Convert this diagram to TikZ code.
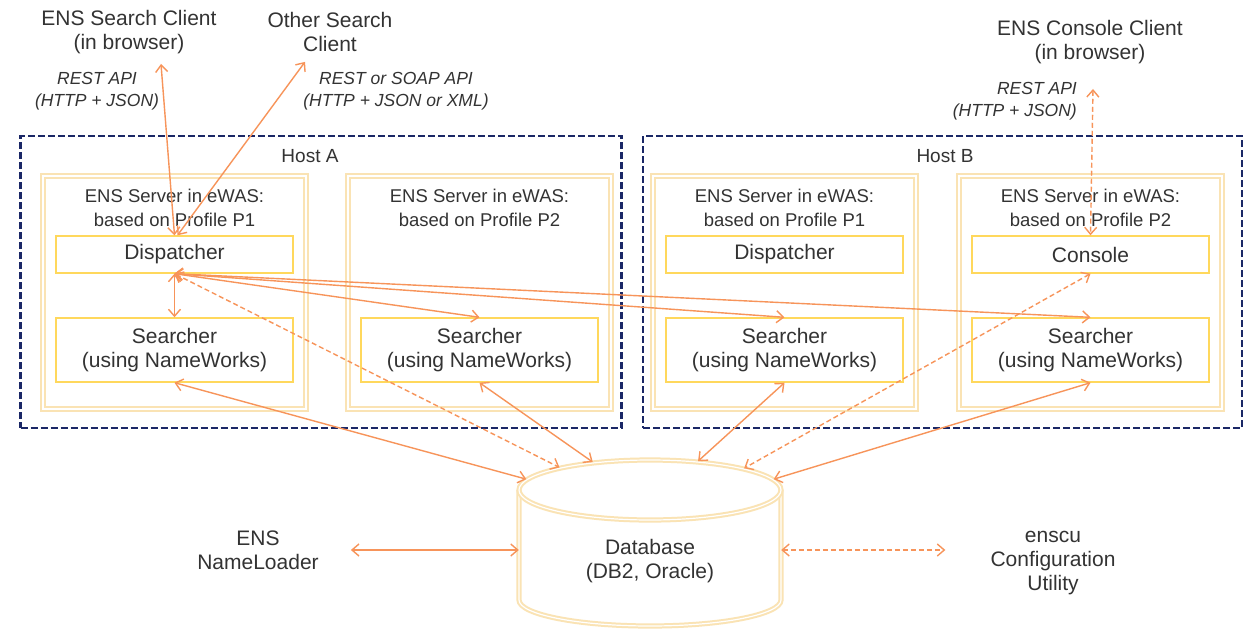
\documentclass[tikz,border=0pt]{standalone}
\usepackage{fontspec}
\setmainfont{Liberation Sans}
\setsansfont{Liberation Sans}
\usetikzlibrary{arrows.meta,shapes.geometric,calc}
\definecolor{ink}{HTML}{333333}
\definecolor{hostedge}{HTML}{1A2766}
\definecolor{frame}{HTML}{FAE3B4}
\definecolor{boxedge}{HTML}{FFD85C}
\definecolor{wire}{HTML}{F7945A}

\begin{document}
\begin{tikzpicture}[
  x=1pt,y=-1pt,
  font=\sffamily,
  label/.style={font=\sffamily\fontsize{21}{24}\selectfont,text=ink,align=center,inner sep=2pt},
  api/.style={font=\sffamily\itshape\fontsize{17.5}{22}\selectfont,text=ink,align=center,inner sep=1pt},
  hosttitle/.style={font=\sffamily\fontsize{19}{22}\selectfont,text=ink},
  srvtitle/.style={font=\sffamily\fontsize{18.5}{24}\selectfont,text=ink,align=center},
  hostbox/.style={draw=hostedge,line width=2.2pt,dash pattern=on 7pt off 3pt,minimum width=601,minimum height=292},
  srvframe/.style={draw=frame,line width=2pt,double=white,double distance=1.4pt,fill=white,minimum width=263,minimum height=233},
  part/.style={draw=boxedge,line width=1.4pt,fill=white,text=ink,font=\sffamily\fontsize{21}{24}\selectfont,align=center,minimum width=237},
  dbline/.style={draw=frame,line width=2pt,double=white,double distance=1.2pt},
  wire/.style={draw=wire,line width=1.4pt,arrows={Straight Barb[length=7pt,width=12pt]-Straight Barb[length=7pt,width=12pt]}},
  dwire/.style={wire,dash pattern=on 5pt off 3pt}
]
\useasboundingbox (0,0) rectangle (1245,629);
\fill[white] (0,0) rectangle (1245,629);

% Hosts
\node[hostbox] (hostA) at (321,282) {};
\node[hostbox,minimum width=599] (hostB) at (942.5,282) {};
\node[hosttitle] (hostAt) at (310,156) {Host A};
\node[hosttitle] (hostBt) at (945,156) {Host B};

% Servers
\foreach \n/\x/\p in {A1/174.5/P1,A2/479.5/P2,B1/784.5/P1,B2/1090.5/P2} {
  \node[srvframe] (srv\n) at (\x,292.5) {};
  \node[srvtitle] (srv\n t) at (\x,208) {ENS Server in eWAS:\\based on Profile \p};
  \node[part,minimum height=64] (s\n) at (\x,350) {Searcher\\(using NameWorks)};
}
\node[part,minimum height=37] (dA1) at (174.5,254.5) {Dispatcher};
\node[part,minimum height=37] (dB1) at (784.5,254.5) {Dispatcher};
\node[part,minimum height=37] (cB2) at (1090.5,254.5) {Console};

% Clients
\node[label] (esc) at (129,32) {ENS Search Client\\(in browser)};
\node[label] (osc) at (330,32) {Other Search\\Client};
\node[label] (ecc) at (1090,42) {ENS Console Client\\(in browser)};
\node[api] (apiA) at (97,91) {REST API\\(HTTP + JSON)};
\node[api] (apiO) at (396,91) {REST or SOAP API\\(HTTP + JSON or XML)};
\node[api,anchor=east,align=right] (apiC) at (1078,101) {REST API\\(HTTP + JSON)};

% Database
\path[dbline] (519,490) -- (519,600) arc[start angle=180,end angle=360,x radius=131pt,y radius=26pt] -- (781,490);
\node[ellipse,dbline,fill=white,minimum width=262,minimum height=60,inner sep=0pt] (dbtop) at (650,490) {};
\node[label,minimum width=262] (db) at (650,561.5) {Database\\(DB2, Oracle)};
\node[label] (nl) at (258,550) {ENS\\NameLoader};
\node[label] (cfg) at (1053,563) {enscu\\Configuration\\Utility};

% Connectors
\draw[wire] ([shift={(32,8)}]esc.south) -- (dA1.north);
\draw[wire] ([shift={(-25,8)}]osc.south) -- ([xshift=3pt]dA1.north);
\draw[dwire] ([shift={(3,23)}]ecc.south) -- (cB2.north);
\draw[wire] (dA1.south) -- (sA1.north);
\draw[wire] (dA1.south) -- (sA2.north);
\draw[wire] (dA1.south) -- (sB1.north);
\draw[wire] (dA1.south) -- (sB2.north);
\draw[dwire] (dA1.south) -- (dbtop.166);
\draw[wire] (sA1.south) -- (dbtop.175);
\draw[wire] (sA2.south) -- (dbtop.154);
\draw[wire] (sB1.south) -- (dbtop.31);
\draw[dwire] (cB2.south) -- (dbtop.13);
\draw[wire] (sB2.south) -- (dbtop.5);
\draw[wire] ([xshift=30pt]nl.east) -- (nl.east -| db.west);
\draw[dwire] (db.east |- nl.east) -- ($(cfg.west |- nl.east)+(-43,0)$);
\end{tikzpicture}
\end{document}
